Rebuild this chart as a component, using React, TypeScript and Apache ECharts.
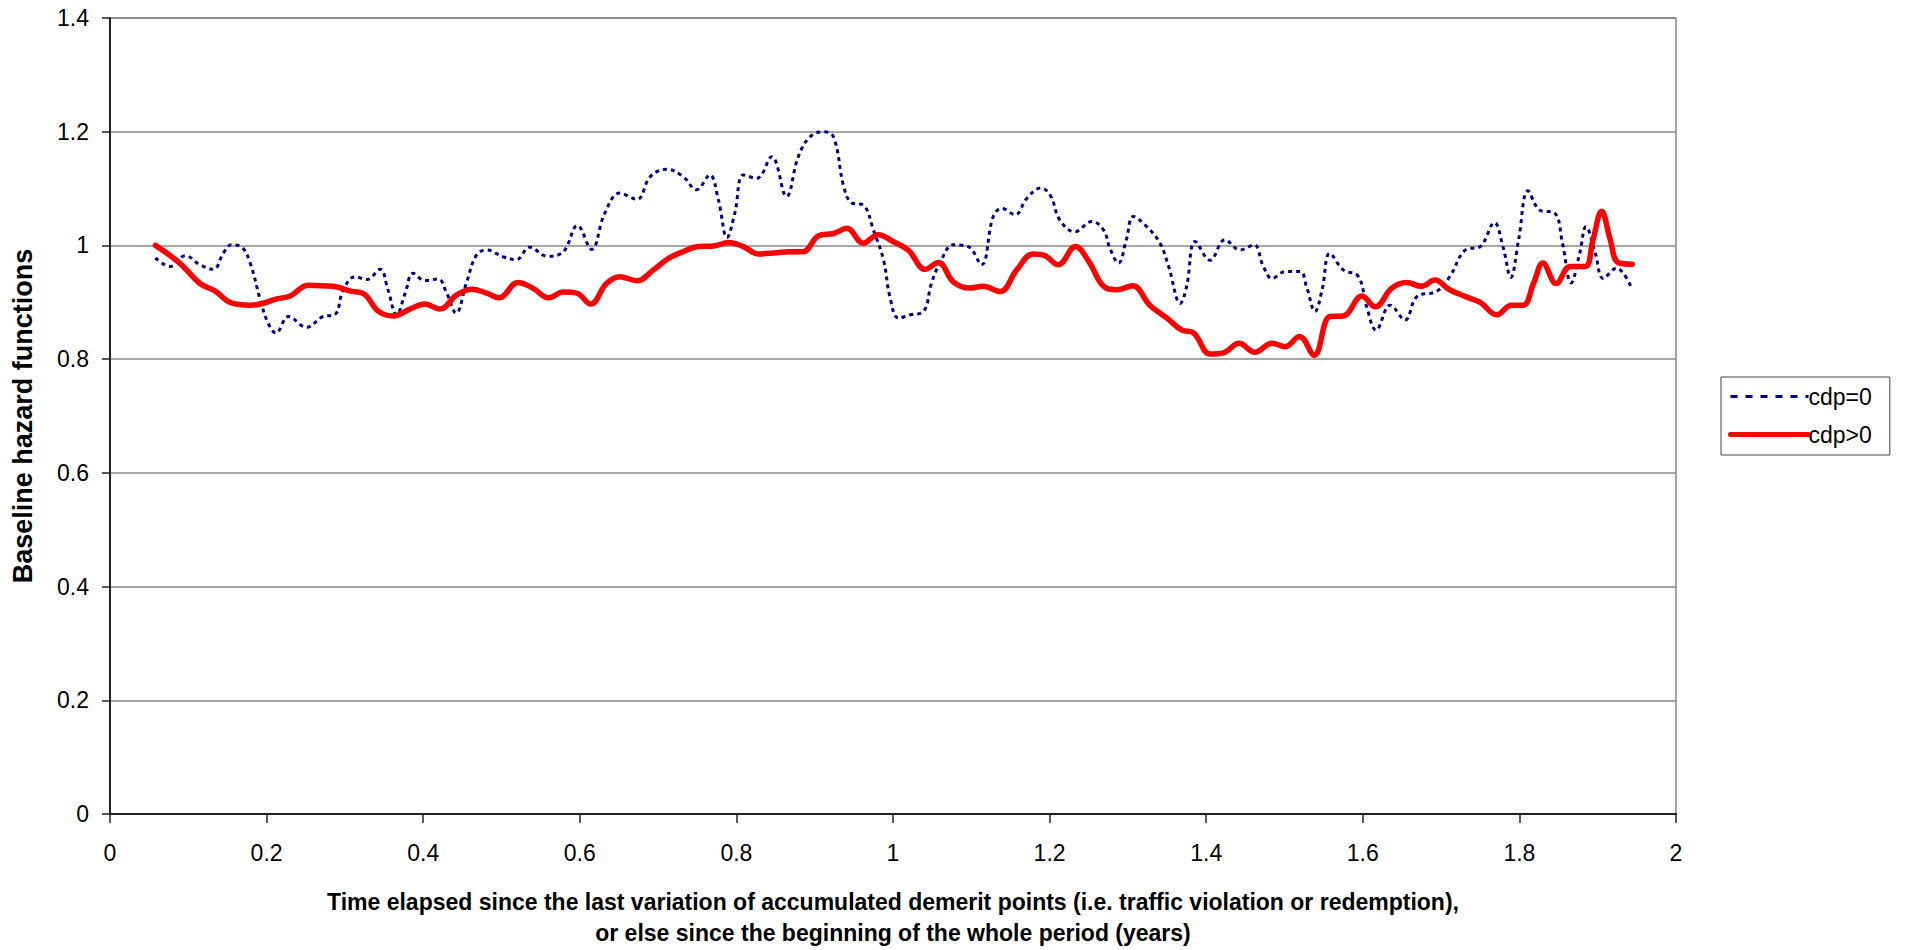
import React, { useEffect, useRef } from "react";
import * as echarts from "echarts";

const seriesNames = ["cdp=0", "cdp>0"];

const xTicks = { min: 0, max: 2, interval: 0.2 };
const yTicks = { min: 0, max: 1.4, interval: 0.2 };

const xAxisTitle =
  "Time elapsed since the last variation of accumulated demerit points (i.e. traffic violation or redemption),\nor else since the beginning of the whole period (years)";
const yAxisTitle = "Baseline hazard functions";

// cdp=0 (blue dotted)
const cdpZero: [number, number][] = [
  [0.058, 0.978], [0.077, 0.963], [0.096, 0.982], [0.115, 0.966], [0.132, 0.958],
  [0.145, 0.987], [0.155, 1.001], [0.168, 0.997], [0.179, 0.969], [0.192, 0.904],
  [0.202, 0.863], [0.212, 0.846], [0.228, 0.875], [0.251, 0.856], [0.272, 0.875],
  [0.287, 0.878], [0.298, 0.922], [0.313, 0.945], [0.328, 0.940], [0.345, 0.958],
  [0.355, 0.922], [0.366, 0.878], [0.377, 0.916], [0.387, 0.951], [0.402, 0.938],
  [0.419, 0.941], [0.430, 0.916], [0.442, 0.881], [0.455, 0.933], [0.468, 0.983],
  [0.481, 0.992], [0.502, 0.980], [0.519, 0.975], [0.536, 0.997], [0.558, 0.981],
  [0.579, 0.989], [0.597, 1.035], [0.615, 0.993], [0.632, 1.057], [0.651, 1.092],
  [0.673, 1.081], [0.690, 1.121], [0.711, 1.134], [0.732, 1.121], [0.749, 1.098],
  [0.766, 1.124], [0.777, 1.080], [0.788, 1.014], [0.798, 1.057], [0.809, 1.124],
  [0.826, 1.118], [0.845, 1.156], [0.864, 1.086], [0.879, 1.156], [0.894, 1.191],
  [0.911, 1.200], [0.924, 1.191], [0.937, 1.104], [0.947, 1.075], [0.962, 1.071],
  [0.975, 1.027], [0.988, 0.974], [0.996, 0.910], [1.007, 0.872], [1.022, 0.878],
  [1.039, 0.884], [1.049, 0.933], [1.060, 0.969], [1.077, 1.001], [1.096, 0.998],
  [1.113, 0.966], [1.128, 1.051], [1.139, 1.065], [1.156, 1.054], [1.171, 1.083],
  [1.189, 1.101], [1.201, 1.088], [1.213, 1.045], [1.232, 1.024], [1.254, 1.042],
  [1.269, 1.027], [1.277, 0.995], [1.288, 0.969], [1.298, 1.010], [1.307, 1.051],
  [1.324, 1.033], [1.341, 1.004], [1.352, 0.963], [1.367, 0.898], [1.375, 0.928],
  [1.386, 1.007], [1.405, 0.974], [1.424, 1.010], [1.443, 0.992], [1.461, 1.001],
  [1.473, 0.963], [1.484, 0.942], [1.501, 0.954], [1.520, 0.954], [1.528, 0.928],
  [1.539, 0.884], [1.548, 0.922], [1.558, 0.986], [1.575, 0.957], [1.594, 0.946],
  [1.605, 0.892], [1.617, 0.851], [1.635, 0.895], [1.654, 0.869], [1.669, 0.910],
  [1.694, 0.919], [1.711, 0.945], [1.731, 0.992], [1.750, 0.998], [1.768, 1.040],
  [1.779, 0.998], [1.789, 0.944], [1.799, 1.010], [1.811, 1.096], [1.826, 1.062],
  [1.845, 1.057], [1.855, 1.004], [1.866, 0.934], [1.877, 0.986], [1.885, 1.033],
  [1.897, 0.986], [1.907, 0.942], [1.924, 0.960], [1.943, 0.926],
];

// cdp>0 (red solid)
const cdpPositive: [number, number][] = [
  [0.058, 1.000], [0.089, 0.969], [0.115, 0.933], [0.134, 0.920], [0.155, 0.899],
  [0.179, 0.895], [0.192, 0.897], [0.213, 0.906], [0.230, 0.911], [0.253, 0.930],
  [0.272, 0.929], [0.290, 0.927], [0.306, 0.920], [0.324, 0.915], [0.343, 0.884],
  [0.362, 0.876], [0.383, 0.888], [0.402, 0.897], [0.421, 0.888], [0.443, 0.913],
  [0.462, 0.923], [0.481, 0.916], [0.497, 0.908], [0.521, 0.935], [0.541, 0.924],
  [0.560, 0.908], [0.579, 0.918], [0.596, 0.916], [0.614, 0.897], [0.634, 0.933],
  [0.651, 0.945], [0.673, 0.938], [0.694, 0.957], [0.713, 0.977], [0.732, 0.989],
  [0.751, 0.998], [0.771, 0.999], [0.790, 1.005], [0.809, 0.998], [0.828, 0.985],
  [0.851, 0.987], [0.868, 0.989], [0.885, 0.989], [0.905, 1.017], [0.924, 1.021],
  [0.941, 1.030], [0.962, 1.004], [0.981, 1.019], [1.000, 1.007], [1.020, 0.991],
  [1.041, 0.958], [1.058, 0.970], [1.077, 0.936], [1.098, 0.925], [1.115, 0.928],
  [1.137, 0.919], [1.158, 0.957], [1.179, 0.985], [1.194, 0.982], [1.211, 0.966],
  [1.233, 0.998], [1.250, 0.972], [1.269, 0.928], [1.286, 0.922], [1.306, 0.929],
  [1.328, 0.895], [1.350, 0.872], [1.369, 0.851], [1.384, 0.846], [1.405, 0.809],
  [1.422, 0.811], [1.442, 0.828], [1.462, 0.812], [1.484, 0.828], [1.501, 0.822],
  [1.519, 0.840], [1.538, 0.807], [1.558, 0.875], [1.575, 0.876], [1.599, 0.911],
  [1.616, 0.892], [1.637, 0.925], [1.656, 0.935], [1.675, 0.928], [1.692, 0.939],
  [1.711, 0.922], [1.733, 0.909], [1.750, 0.900], [1.771, 0.878], [1.790, 0.895],
  [1.805, 0.895], [1.818, 0.933], [1.830, 0.969], [1.847, 0.933], [1.865, 0.963],
  [1.884, 0.963], [1.894, 1.010], [1.905, 1.060], [1.916, 1.010], [1.926, 0.970],
  [1.944, 0.967],
];

const FONT = "'Liberation Sans', Arial, sans-serif";
const hiddenSymbol = { color: "transparent", borderColor: "transparent", borderWidth: 0, opacity: 0 };

export default function App() {
  const ref = useRef<HTMLDivElement>(null);

  useEffect(() => {
    if (!ref.current) return;
    const chart = echarts.init(ref.current, undefined, { renderer: "svg" });
    chart.setOption({
      animation: false,
      backgroundColor: "#ffffff",
      textStyle: { fontFamily: FONT },
      grid: {
        left: 110,
        top: 18,
        right: 231,
        bottom: 136,
        outerBoundsMode: "none",
        containLabel: false,
        show: true,
        borderColor: "#888888",
        borderWidth: 1.5,
        backgroundColor: "transparent",
      },
      legend: {
        orient: "vertical",
        left: 1721,
        top: 377,
        itemWidth: 78,
        itemHeight: 20,
        itemGap: 15,
        padding: [8, 18, 9, 7],
        borderColor: "#404040",
        borderWidth: 1,
        textStyle: { fontFamily: FONT, fontSize: 23, color: "#000", padding: [0, 0, 0, -5] },
        data: [
          { name: seriesNames[0], lineStyle: { type: [7, 8], width: 3 }, itemStyle: hiddenSymbol },
          { name: seriesNames[1], lineStyle: { width: 5 }, itemStyle: hiddenSymbol },
        ],
      },
      xAxis: {
        type: "value",
        min: xTicks.min,
        max: xTicks.max,
        interval: xTicks.interval,
        name: xAxisTitle,
        nameLocation: "middle",
        nameGap: 72,
        nameTextStyle: {
          fontFamily: FONT,
          fontSize: 23,
          fontWeight: "bold",
          color: "#000",
          lineHeight: 31,
          align: "center",
        },
        axisLine: { show: true, onZero: false, lineStyle: { color: "#222", width: 2 } },
        axisTick: { show: true, inside: false, length: 9, lineStyle: { color: "#222", width: 1.5 } },
        axisLabel: { fontSize: 23, color: "#000", margin: 27, fontFamily: FONT },
        splitLine: { show: false },
      },
      yAxis: {
        type: "value",
        min: yTicks.min,
        max: yTicks.max,
        interval: yTicks.interval,
        name: yAxisTitle,
        nameLocation: "middle",
        nameGap: 74,
        nameTextStyle: {
          fontFamily: FONT,
          fontSize: 27,
          fontWeight: "bold",
          color: "#000",
        },
        axisLine: { show: true, lineStyle: { color: "#222", width: 2 } },
        axisTick: { show: true, inside: false, length: 8, lineStyle: { color: "#222", width: 1.5 } },
        axisLabel: { fontSize: 23, color: "#000", margin: 21, fontFamily: FONT },
        splitLine: { show: true, lineStyle: { color: "#888888", width: 1.5 } },
      },
      series: [
        {
          name: seriesNames[0],
          type: "line",
          data: cdpZero,
          smooth: 0.4,
          symbol: "none",
          lineStyle: { color: "#000080", width: 3, type: [4, 4], cap: "butt" },
          itemStyle: { color: "#000080" },
          z: 3,
        },
        {
          name: seriesNames[1],
          type: "line",
          data: cdpPositive,
          smooth: 0.4,
          symbol: "none",
          lineStyle: { color: "#ff0000", width: 5.5, cap: "round", join: "round" },
          itemStyle: { color: "#ff0000" },
          z: 4,
        },
      ],
    });
    return () => chart.dispose();
  }, []);

  return (
    <div
      ref={ref}
      style={{ position: "fixed", left: 0, top: 0, width: 1907, height: 950, background: "#fff" }}
    />
  );
}
